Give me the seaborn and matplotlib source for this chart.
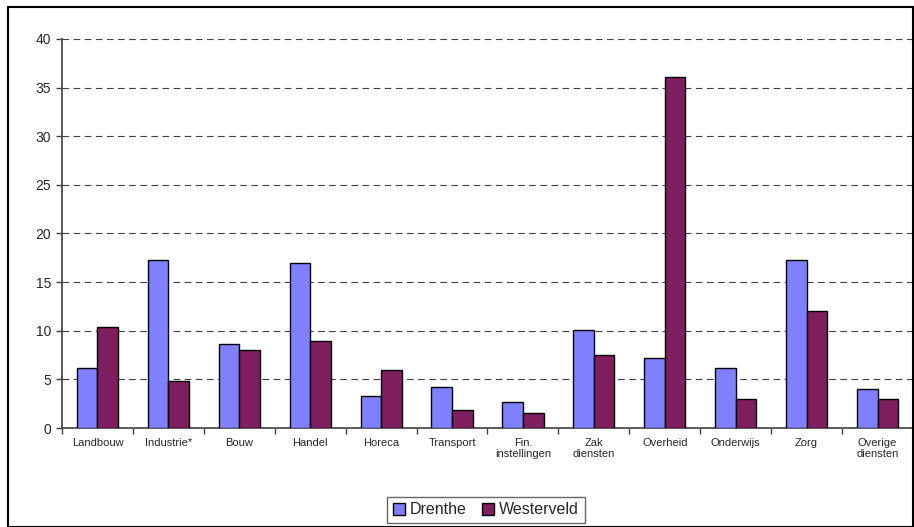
import matplotlib
matplotlib.use('Agg')
import matplotlib.pyplot as plt
from matplotlib.patches import Rectangle
import pandas as pd
import seaborn as sns

# data
sectoren = ['Landbouw', 'Industrie*', 'Bouw', 'Handel', 'Horeca', 'Transport',
            'Fin.\ninstellingen', 'Zak\ndiensten', 'Overheid', 'Onderwijs',
            'Zorg', 'Overige\ndiensten']
drenthe = [6.2, 17.3, 8.6, 17.0, 3.3, 4.2, 2.7, 10.1, 7.2, 6.2, 17.3, 4.0]
westerveld = [10.4, 4.8, 8.0, 8.9, 6.0, 1.8, 1.5, 7.5, 36.1, 3.0, 12.0, 3.0]
regio_kleuren = {'Drenthe': '#8080FF', 'Westerveld': '#7F1F5F'}

df = pd.DataFrame({
    'sector': sectoren * 2,
    'waarde': drenthe + westerveld,
    'regio': ['Drenthe'] * len(sectoren) + ['Westerveld'] * len(sectoren),
})

sns.set_style('white')
plt.rcParams['font.family'] = ['Liberation Sans', 'DejaVu Sans']

fig = plt.figure(figsize=(9.14, 5.27), dpi=100)
ax = fig.add_axes([62 / 914, 99 / 527, 851 / 914, 389 / 527])

sns.barplot(data=df, x='sector', y='waarde', hue='regio', palette=regio_kleuren,
            width=0.58, gap=0, edgecolor='black', linewidth=1.0, saturation=1,
            ax=ax, zorder=3)

ax.set_xlim(-0.5, len(sectoren) - 0.5)
ax.set_ylim(0, 40)
ax.set_yticks(range(0, 41, 5))
ax.set_yticklabels([str(v) for v in range(0, 41, 5)], fontsize=10)
ax.yaxis.grid(True, linestyle=(0, (6, 4)), color='#404040', linewidth=0.8, zorder=0)
ax.set_axisbelow(True)
ax.set_xlabel('')
ax.set_ylabel('')

# category labels between boundary ticks
ax.set_xticks(range(len(sectoren)))
ax.set_xticklabels(sectoren, fontsize=8, linespacing=1.15)
ax.tick_params(axis='x', which='major', length=0, pad=7)
ax.set_xticks([i - 0.5 for i in range(len(sectoren) + 1)], minor=True)
ax.tick_params(axis='x', which='minor', bottom=True, length=4, width=1,
               color='#404040', direction='out')
ax.tick_params(axis='y', length=4, width=1, color='#404040', direction='out', left=True, pad=4)

for side in ['top', 'right']:
    ax.spines[side].set_visible(False)
ax.spines['left'].set_color('#404040')
ax.spines['bottom'].set_color('#404040')
ax.spines['left'].set_linewidth(1.2)
ax.spines['bottom'].set_linewidth(1.2)

handles, labels = ax.get_legend_handles_labels()
ax.get_legend().remove()
leg = fig.legend(handles, labels, loc='center', bbox_to_anchor=(486 / 914, 17 / 527),
                 ncol=2, frameon=True, fancybox=False, edgecolor='#404040',
                 fontsize=11.5, handlelength=0.75, handleheight=0.75,
                 handletextpad=0.3, columnspacing=1.0, borderpad=0.35)
leg.get_frame().set_linewidth(1.0)

# chart area border
fig.patches.append(Rectangle((8 / 914, 0), 905 / 914, 520 / 527, transform=fig.transFigure,
                             fill=False, edgecolor='black', linewidth=1.5))

fig.savefig('out.png', dpi=100)
